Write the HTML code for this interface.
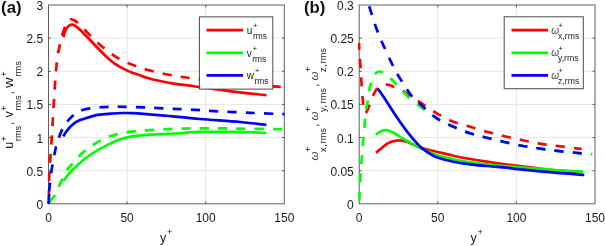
<!DOCTYPE html>
<html><head><meta charset="utf-8"><title>rms profiles</title>
<style>
html,body{margin:0;padding:0;background:#fff;}
body{width:605px;height:246px;overflow:hidden;font-family:"Liberation Sans",sans-serif;}
svg{display:block;filter:blur(0.4px);}
text{font-family:"Liberation Sans",sans-serif;fill:#1a1a1a;}
.t{font-size:12px;}
.g{stroke:#e6e6e6;stroke-width:1;}
.bx{fill:none;stroke:#5e5e5e;stroke-width:1;}
.tk{stroke:#4a4a4a;stroke-width:0.9;}
.pl{font-size:16.8px;font-weight:bold;fill:#111;}
.lb{font-size:12px;}
.lbs{font-size:9.6px;}
.lg{font-size:10px;}
.lgs{font-size:8px;}
.om{font-style:italic;fill:#444;}
</style></head><body>
<svg width="605" height="246" viewBox="0 0 605 246">
<defs>
<clipPath id="ca"><rect x="47.3" y="3.8" width="238.2" height="201"/></clipPath>
<clipPath id="cb"><rect x="358" y="3.8" width="238.2" height="201"/></clipPath>
</defs>
<rect width="605" height="246" fill="#fff"/>
<line x1="48.5" y1="170.7" x2="284.3" y2="170.7" class="g"/>
<line x1="48.5" y1="137.5" x2="284.3" y2="137.5" class="g"/>
<line x1="48.5" y1="104.4" x2="284.3" y2="104.4" class="g"/>
<line x1="48.5" y1="71.3" x2="284.3" y2="71.3" class="g"/>
<line x1="48.5" y1="38.1" x2="284.3" y2="38.1" class="g"/>
<line x1="127.1" y1="5.0" x2="127.1" y2="203.8" class="g"/>
<line x1="205.7" y1="5.0" x2="205.7" y2="203.8" class="g"/>
<rect x="48.5" y="5.0" width="235.8" height="198.8" class="bx"/>
<line x1="48.5" y1="170.7" x2="50.9" y2="170.7" class="tk"/>
<line x1="284.3" y1="170.7" x2="281.9" y2="170.7" class="tk"/>
<line x1="48.5" y1="137.5" x2="50.9" y2="137.5" class="tk"/>
<line x1="284.3" y1="137.5" x2="281.9" y2="137.5" class="tk"/>
<line x1="48.5" y1="104.4" x2="50.9" y2="104.4" class="tk"/>
<line x1="284.3" y1="104.4" x2="281.9" y2="104.4" class="tk"/>
<line x1="48.5" y1="71.3" x2="50.9" y2="71.3" class="tk"/>
<line x1="284.3" y1="71.3" x2="281.9" y2="71.3" class="tk"/>
<line x1="48.5" y1="38.1" x2="50.9" y2="38.1" class="tk"/>
<line x1="284.3" y1="38.1" x2="281.9" y2="38.1" class="tk"/>
<line x1="127.1" y1="203.8" x2="127.1" y2="201.4" class="tk"/>
<line x1="127.1" y1="5.0" x2="127.1" y2="7.4" class="tk"/>
<line x1="205.7" y1="203.8" x2="205.7" y2="201.4" class="tk"/>
<line x1="205.7" y1="5.0" x2="205.7" y2="7.4" class="tk"/>
<g clip-path="url(#ca)" fill="none" stroke-width="2.7" stroke-linejoin="round">
<path d="M63.40 37.20 C63.73 36.13 64.60 32.60 65.40 30.80 C66.20 29.00 67.13 27.43 68.20 26.40 C69.27 25.37 70.67 24.73 71.80 24.60 C72.93 24.47 73.47 24.58 75.00 25.60 C76.53 26.62 78.62 28.43 81.00 30.70 C83.38 32.97 86.52 36.32 89.30 39.20 C92.08 42.08 94.80 45.03 97.70 48.00 C100.60 50.97 103.82 54.37 106.70 57.00 C109.58 59.63 112.23 61.87 115.00 63.80 C117.77 65.73 120.52 67.15 123.30 68.60 C126.08 70.05 128.92 71.40 131.70 72.50 C134.48 73.60 137.48 74.33 140.00 75.20 C142.52 76.07 143.47 76.73 146.80 77.70 C150.13 78.67 155.52 80.02 160.00 81.00 C164.48 81.98 168.28 82.77 173.70 83.60 C179.12 84.43 188.12 85.40 192.50 86.00 C196.88 86.60 193.25 86.27 200.00 87.20 C206.75 88.13 221.92 90.27 233.00 91.60 C244.08 92.93 260.92 94.60 266.50 95.20" stroke="#ff0000"/>
<path d="M63.50 181.00 C64.72 179.45 67.33 175.32 70.80 171.70 C74.27 168.08 79.82 162.88 84.30 159.30 C88.78 155.72 93.23 152.88 97.70 150.20 C102.17 147.52 107.38 145.02 111.10 143.20 C114.82 141.38 116.28 140.47 120.00 139.30 C123.72 138.13 128.93 136.95 133.40 136.20 C137.87 135.45 140.08 135.25 146.80 134.80 C153.52 134.35 164.83 133.98 173.70 133.50 C182.57 133.02 192.28 132.18 200.00 131.90 C207.72 131.62 213.33 131.80 220.00 131.80 C226.67 131.80 232.27 131.70 240.00 131.90 C247.73 132.10 262.00 132.82 266.40 133.00" stroke="#00ff00"/>
<path d="M63.30 136.40 C63.83 135.55 65.25 132.98 66.50 131.30 C67.75 129.62 69.05 127.93 70.80 126.30 C72.55 124.67 74.75 122.77 77.00 121.50 C79.25 120.23 80.85 119.80 84.30 118.70 C87.75 117.60 93.23 115.75 97.70 114.90 C102.17 114.05 106.72 113.92 111.10 113.60 C115.48 113.28 120.35 113.07 124.00 113.00 C127.65 112.93 129.20 113.00 133.00 113.20 C136.80 113.40 140.13 113.68 146.80 114.20 C153.47 114.72 164.13 115.50 173.00 116.30 C181.87 117.10 188.83 118.05 200.00 119.00 C211.17 119.95 228.93 121.02 240.00 122.00 C251.07 122.98 262.00 124.42 266.40 124.90" stroke="#0000ff"/>
<path d="M48.50 204.00 C48.62 199.17 48.95 181.83 49.20 175.00 C49.45 168.17 49.53 169.83 50.00 163.00 C50.47 156.17 51.42 143.17 52.00 134.00 C52.58 124.83 52.95 117.00 53.50 108.00 C54.05 99.00 54.67 88.33 55.30 80.00 C55.93 71.67 56.62 63.47 57.30 58.00 C57.98 52.53 58.77 50.45 59.40 47.20 C60.03 43.95 60.20 41.80 61.10 38.50 C62.00 35.20 63.73 30.23 64.80 27.40 C65.87 24.57 66.55 22.85 67.50 21.50 C68.45 20.15 69.50 19.55 70.50 19.30 C71.50 19.05 72.38 19.48 73.50 20.00 C74.62 20.52 75.40 20.83 77.20 22.40 C79.00 23.97 80.88 26.00 84.30 29.40 C87.72 32.80 93.23 38.77 97.70 42.80 C102.17 46.83 107.52 50.92 111.10 53.60 C114.68 56.28 116.38 57.33 119.20 58.90 C122.02 60.47 123.40 61.20 128.00 63.00 C132.60 64.80 139.18 67.60 146.80 69.70 C154.42 71.80 165.18 74.05 173.70 75.60 C182.22 77.15 186.85 77.60 197.90 79.00 C208.95 80.40 226.65 82.72 240.00 84.00 C253.35 85.28 270.58 86.20 278.00 86.70 C285.42 87.20 283.42 86.95 284.50 87.00" stroke="#ff0000" stroke-dasharray="9.15 9.15" stroke-dashoffset="13.66"/>
<path d="M48.50 204.00 C49.00 203.25 50.43 200.97 51.50 199.50 C52.57 198.03 53.65 197.48 54.90 195.20 C56.15 192.92 57.70 188.55 59.00 185.80 C60.30 183.05 61.30 181.43 62.70 178.70 C64.10 175.97 65.68 171.98 67.40 169.40 C69.12 166.82 70.18 166.22 73.00 163.20 C75.82 160.18 80.18 154.82 84.30 151.30 C88.42 147.78 93.25 144.65 97.70 142.10 C102.15 139.55 105.95 137.67 111.00 136.00 C116.05 134.33 122.03 133.05 128.00 132.10 C133.97 131.15 139.18 130.83 146.80 130.30 C154.42 129.77 165.33 129.22 173.70 128.90 C182.07 128.58 189.17 128.48 197.00 128.40 C204.83 128.32 211.87 128.33 220.70 128.40 C229.53 128.47 239.37 128.67 250.00 128.80 C260.63 128.93 278.75 129.13 284.50 129.20" stroke="#00ff00" stroke-dasharray="9.15 9.15" stroke-dashoffset="16.57"/>
<path d="M48.50 203.80 C48.55 203.00 48.67 200.67 48.80 199.00 C48.93 197.33 49.22 194.67 49.30 193.80" stroke="#0000ff"/>
<path d="M48.50 204.00 C48.62 201.83 48.95 194.43 49.20 191.00 C49.45 187.57 49.68 186.38 50.00 183.40 C50.32 180.42 50.70 176.07 51.10 173.10 C51.50 170.13 51.58 170.00 52.40 165.60 C53.22 161.20 54.93 151.35 56.00 146.70 C57.07 142.05 57.47 141.15 58.80 137.70 C60.13 134.25 62.00 129.35 64.00 126.00 C66.00 122.65 68.63 119.85 70.80 117.60 C72.97 115.35 74.75 113.85 77.00 112.50 C79.25 111.15 80.85 110.35 84.30 109.50 C87.75 108.65 93.25 107.85 97.70 107.40 C102.15 106.95 106.62 106.90 111.00 106.80 C115.38 106.70 118.17 106.68 124.00 106.80 C129.83 106.92 137.83 107.17 146.00 107.50 C154.17 107.83 164.00 108.37 173.00 108.80 C182.00 109.23 193.83 109.75 200.00 110.10 C206.17 110.45 201.67 110.45 210.00 110.90 C218.33 111.35 237.58 112.25 250.00 112.80 C262.42 113.35 278.75 113.97 284.50 114.20" stroke="#0000ff" stroke-dasharray="9.15 9.15" stroke-dashoffset="5.87"/>
</g>
<text x="43.1" y="208.8" text-anchor="end" class="t">0</text>
<text x="43.1" y="175.7" text-anchor="end" class="t">0.5</text>
<text x="43.1" y="142.5" text-anchor="end" class="t">1</text>
<text x="43.1" y="109.4" text-anchor="end" class="t">1.5</text>
<text x="43.1" y="76.3" text-anchor="end" class="t">2</text>
<text x="43.1" y="43.1" text-anchor="end" class="t">2.5</text>
<text x="43.1" y="10.0" text-anchor="end" class="t">3</text>
<text x="48.5" y="221.7" text-anchor="middle" class="t">0</text>
<text x="127.1" y="221.7" text-anchor="middle" class="t">50</text>
<text x="205.7" y="221.7" text-anchor="middle" class="t">100</text>
<text x="284.3" y="221.7" text-anchor="middle" class="t">150</text>
<line x1="359.2" y1="170.7" x2="595.0" y2="170.7" class="g"/>
<line x1="359.2" y1="137.5" x2="595.0" y2="137.5" class="g"/>
<line x1="359.2" y1="104.4" x2="595.0" y2="104.4" class="g"/>
<line x1="359.2" y1="71.3" x2="595.0" y2="71.3" class="g"/>
<line x1="359.2" y1="38.1" x2="595.0" y2="38.1" class="g"/>
<line x1="437.8" y1="5.0" x2="437.8" y2="203.8" class="g"/>
<line x1="516.4" y1="5.0" x2="516.4" y2="203.8" class="g"/>
<rect x="359.2" y="5.0" width="235.8" height="198.8" class="bx"/>
<line x1="359.2" y1="170.7" x2="361.6" y2="170.7" class="tk"/>
<line x1="595.0" y1="170.7" x2="592.6" y2="170.7" class="tk"/>
<line x1="359.2" y1="137.5" x2="361.6" y2="137.5" class="tk"/>
<line x1="595.0" y1="137.5" x2="592.6" y2="137.5" class="tk"/>
<line x1="359.2" y1="104.4" x2="361.6" y2="104.4" class="tk"/>
<line x1="595.0" y1="104.4" x2="592.6" y2="104.4" class="tk"/>
<line x1="359.2" y1="71.3" x2="361.6" y2="71.3" class="tk"/>
<line x1="595.0" y1="71.3" x2="592.6" y2="71.3" class="tk"/>
<line x1="359.2" y1="38.1" x2="361.6" y2="38.1" class="tk"/>
<line x1="595.0" y1="38.1" x2="592.6" y2="38.1" class="tk"/>
<line x1="437.8" y1="203.8" x2="437.8" y2="201.4" class="tk"/>
<line x1="437.8" y1="5.0" x2="437.8" y2="7.4" class="tk"/>
<line x1="516.4" y1="203.8" x2="516.4" y2="201.4" class="tk"/>
<line x1="516.4" y1="5.0" x2="516.4" y2="7.4" class="tk"/>
<g clip-path="url(#cb)" fill="none" stroke-width="2.7" stroke-linejoin="round">
<path d="M376.00 152.90 C377.70 151.47 383.53 146.20 386.20 144.30 C388.87 142.40 389.98 142.17 392.00 141.50 C394.02 140.83 396.47 140.42 398.30 140.30 C400.13 140.18 401.43 140.50 403.00 140.80 C404.57 141.10 404.68 140.93 407.70 142.10 C410.72 143.27 416.27 146.20 421.10 147.80 C425.93 149.40 431.33 150.38 436.70 151.70 C442.07 153.02 447.75 154.48 453.30 155.70 C458.85 156.92 464.43 158.00 470.00 159.00 C475.57 160.00 481.15 160.87 486.70 161.70 C492.25 162.53 497.75 163.28 503.30 164.00 C508.85 164.72 514.17 165.25 520.00 166.00 C525.83 166.75 532.47 167.78 538.30 168.50 C544.13 169.22 547.55 169.72 555.00 170.30 C562.45 170.88 578.33 171.72 583.00 172.00" stroke="#ff0000"/>
<path d="M375.80 134.60 C376.58 134.08 378.90 132.23 380.50 131.50 C382.10 130.77 383.90 130.28 385.40 130.20 C386.90 130.12 388.02 130.50 389.50 131.00 C390.98 131.50 392.38 132.15 394.30 133.20 C396.22 134.25 398.77 135.95 401.00 137.30 C403.23 138.65 404.35 139.43 407.70 141.30 C411.05 143.17 416.27 146.22 421.10 148.50 C425.93 150.78 431.33 153.20 436.70 155.00 C442.07 156.80 447.75 158.08 453.30 159.30 C458.85 160.52 464.43 161.47 470.00 162.30 C475.57 163.13 481.15 163.68 486.70 164.30 C492.25 164.92 497.75 165.50 503.30 166.00 C508.85 166.50 511.38 166.63 520.00 167.30 C528.62 167.97 544.45 169.27 555.00 170.00 C565.55 170.73 578.58 171.42 583.30 171.70" stroke="#00ff00"/>
<path d="M377.40 88.30 C378.00 89.08 379.73 91.22 381.00 93.00 C382.27 94.78 383.58 96.83 385.00 99.00 C386.42 101.17 387.92 103.55 389.50 106.00 C391.08 108.45 392.58 110.82 394.50 113.70 C396.42 116.58 398.80 120.18 401.00 123.30 C403.20 126.42 405.45 129.52 407.70 132.40 C409.95 135.28 412.27 138.07 414.50 140.60 C416.73 143.13 418.85 145.62 421.10 147.60 C423.35 149.58 425.40 150.88 428.00 152.50 C430.60 154.12 432.48 155.77 436.70 157.30 C440.92 158.83 447.75 160.53 453.30 161.70 C458.85 162.87 464.43 163.58 470.00 164.30 C475.57 165.02 481.15 165.50 486.70 166.00 C492.25 166.50 497.75 166.75 503.30 167.30 C508.85 167.85 511.38 168.40 520.00 169.30 C528.62 170.20 544.28 171.75 555.00 172.70 C565.72 173.65 579.42 174.62 584.30 175.00" stroke="#0000ff"/>
<path d="M359.00 43.00 C359.10 45.00 359.32 50.58 359.60 55.00 C359.88 59.42 360.38 64.83 360.70 69.50 C361.02 74.17 361.18 78.33 361.50 83.00 C361.82 87.67 362.25 93.50 362.60 97.50 C362.95 101.50 363.17 104.42 363.60 107.00 C364.03 109.58 364.63 112.33 365.20 113.00 C365.77 113.67 366.32 112.23 367.00 111.00 C367.68 109.77 368.25 108.20 369.30 105.60 C370.35 103.00 372.12 98.12 373.30 95.40 C374.48 92.68 375.12 90.87 376.40 89.30 C377.68 87.73 379.48 86.78 381.00 86.00 C382.52 85.22 384.08 84.77 385.50 84.60 C386.92 84.43 388.13 84.65 389.50 85.00 C390.87 85.35 391.48 85.75 393.70 86.70 C395.92 87.65 400.25 89.25 402.80 90.70 C405.35 92.15 405.97 93.35 409.00 95.40 C412.03 97.45 416.38 100.02 421.00 103.00 C425.62 105.98 431.32 110.18 436.70 113.30 C442.08 116.42 447.75 119.47 453.30 121.70 C458.85 123.93 464.43 125.03 470.00 126.70 C475.57 128.37 481.15 130.15 486.70 131.70 C492.25 133.25 497.47 134.62 503.30 136.00 C509.13 137.38 515.87 138.78 521.70 140.00 C527.53 141.22 532.75 142.35 538.30 143.30 C543.85 144.25 547.77 144.75 555.00 145.70 C562.23 146.65 577.25 148.45 581.70 149.00" stroke="#ff0000" stroke-dasharray="9.15 9.15" stroke-dashoffset="2.19"/>
<path d="M359.20 203.80 C359.25 202.50 359.33 199.63 359.50 196.00 C359.67 192.37 359.95 186.67 360.20 182.00 C360.45 177.33 360.67 172.67 361.00 168.00 C361.33 163.33 361.82 158.67 362.20 154.00 C362.58 149.33 362.90 144.83 363.30 140.00 C363.70 135.17 364.12 130.08 364.60 125.00 C365.08 119.92 365.67 113.58 366.20 109.50 C366.73 105.42 367.28 103.70 367.80 100.50 C368.32 97.30 368.72 93.28 369.30 90.30 C369.88 87.32 370.52 84.98 371.30 82.60 C372.08 80.22 373.13 77.63 374.00 76.00 C374.87 74.37 375.58 73.55 376.50 72.80 C377.42 72.05 378.33 71.47 379.50 71.50 C380.67 71.53 381.65 71.83 383.50 73.00 C385.35 74.17 388.40 76.57 390.60 78.50 C392.80 80.43 394.50 82.35 396.70 84.60 C398.90 86.85 401.75 89.77 403.80 92.00 C405.85 94.23 407.38 96.37 409.00 98.00 C410.62 99.63 412.75 101.17 413.50 101.80" stroke="#00ff00" stroke-dasharray="9.15 9.15" stroke-dashoffset="15.26"/>
<path d="M413.50 101.80 C414.32 102.37 416.15 103.58 418.40 105.20 C420.65 106.82 423.95 109.37 427.00 111.50 C430.05 113.63 432.32 115.48 436.70 118.00 C441.08 120.52 447.75 124.05 453.30 126.60 C458.85 129.15 464.43 131.45 470.00 133.30 C475.57 135.15 481.15 136.30 486.70 137.70 C492.25 139.10 497.47 140.37 503.30 141.70 C509.13 143.03 515.87 144.60 521.70 145.70 C527.53 146.80 532.75 147.47 538.30 148.30 C543.85 149.13 547.77 149.87 555.00 150.70 C562.23 151.53 575.48 152.72 581.70 153.30 C587.92 153.88 590.53 154.05 592.30 154.20" stroke="#00ff00" stroke-dasharray="9.15 9.15" stroke-dashoffset="13.67"/>
<path d="M368.80 5.00 C370.13 9.08 374.35 22.73 376.80 29.50 C379.25 36.27 381.03 40.02 383.50 45.60 C385.97 51.18 389.40 58.43 391.60 63.00 C393.80 67.57 395.00 69.97 396.70 73.00 C398.40 76.03 400.10 78.48 401.80 81.20 C403.50 83.92 405.20 86.77 406.90 89.30 C408.60 91.83 409.65 93.82 412.00 96.40 C414.35 98.98 416.88 101.15 421.00 104.80 C425.12 108.45 431.32 114.65 436.70 118.30 C442.08 121.95 447.75 124.20 453.30 126.70 C458.85 129.20 464.43 131.47 470.00 133.30 C475.57 135.13 481.15 136.30 486.70 137.70 C492.25 139.10 497.47 140.37 503.30 141.70 C509.13 143.03 515.87 144.60 521.70 145.70 C527.53 146.80 532.75 147.47 538.30 148.30 C543.85 149.13 547.77 149.87 555.00 150.70 C562.23 151.53 577.25 152.87 581.70 153.30" stroke="#0000ff" stroke-dasharray="9.15 9.15" stroke-dashoffset="16.89"/>
</g>
<text x="353.8" y="208.8" text-anchor="end" class="t">0</text>
<text x="353.8" y="175.7" text-anchor="end" class="t">0.05</text>
<text x="353.8" y="142.5" text-anchor="end" class="t">0.1</text>
<text x="353.8" y="109.4" text-anchor="end" class="t">0.15</text>
<text x="353.8" y="76.3" text-anchor="end" class="t">0.2</text>
<text x="353.8" y="43.1" text-anchor="end" class="t">0.25</text>
<text x="353.8" y="10.0" text-anchor="end" class="t">0.3</text>
<text x="359.2" y="221.7" text-anchor="middle" class="t">0</text>
<text x="437.8" y="221.7" text-anchor="middle" class="t">50</text>
<text x="516.4" y="221.7" text-anchor="middle" class="t">100</text>
<text x="595.0" y="221.7" text-anchor="middle" class="t">150</text>
<text x="1.1" y="13.1" class="pl">(a)</text>
<text x="304.0" y="13.1" class="pl">(b)</text>
<text x="160.1" y="241.7" style="font-size:12.5px">y</text><text x="167.1" y="235.3" style="font-size:9.2px">+</text>
<text x="470.6" y="241.7" style="font-size:12.5px">y</text><text x="477.6" y="235.3" style="font-size:9.2px">+</text>
<g transform="translate(13.3,148.7) rotate(-90)"><text x="0.00" y="0" style="font-size:12.5px">u</text><text x="7.25" y="-6.6" style="font-size:9.2px">+</text><text x="7.55" y="7.2" style="font-size:9.2px">rms</text><text x="31.10" y="0" style="font-size:12.5px">v</text><text x="37.65" y="-6.6" style="font-size:9.2px">+</text><text x="37.95" y="7.2" style="font-size:9.2px">rms</text><text x="60.70" y="0" textLength="10.6" lengthAdjust="spacingAndGlyphs" style="font-size:12.5px">w</text><text x="71.90" y="-6.6" style="font-size:9.2px">+</text><text x="72.20" y="7.2" style="font-size:9.2px">rms</text><text x="23.70" y="0" style="font-size:12.5px">,</text><text x="54.10" y="0" style="font-size:12.5px">,</text></g>
<g transform="translate(318,160.3) rotate(-90)"><text x="-0.30" y="0" class="om" style="font-size:11.5px">ω</text><text x="8.30" y="-7.3" style="font-size:9.2px">+</text><text x="8.30" y="7.5" style="font-size:9.2px;letter-spacing:0.6px">x,</text><text x="16.90" y="7.5" style="font-size:9.2px">rms</text><text x="33.30" y="0" style="font-size:12.5px">,</text><text x="39.70" y="0" class="om" style="font-size:11.5px">ω</text><text x="48.30" y="-7.3" style="font-size:9.2px">+</text><text x="48.30" y="7.5" style="font-size:9.2px;letter-spacing:0.6px">y,</text><text x="56.90" y="7.5" style="font-size:9.2px">rms</text><text x="73.30" y="0" style="font-size:12.5px">,</text><text x="79.70" y="0" class="om" style="font-size:11.5px">ω</text><text x="88.30" y="-7.3" style="font-size:9.2px">+</text><text x="88.30" y="7.5" style="font-size:9.2px;letter-spacing:0.6px">z,</text><text x="96.90" y="7.5" style="font-size:9.2px">rms</text></g>
<rect x="199.4" y="16.9" width="73.4" height="72.2" fill="#fff" stroke="#4a4a4a" stroke-width="1"/><line x1="206.5" y1="30.2" x2="243" y2="30.2" stroke="#ff0000" stroke-width="2.7"/><text x="246.8" y="33.9" class="lg">u</text><text x="253.1" y="28.0" class="lgs">+</text><text x="252.9" y="39.2" class="lgs" style="font-size:8.4px">rms</text><line x1="206.5" y1="52.8" x2="243" y2="52.8" stroke="#00ff00" stroke-width="2.7"/><text x="246.8" y="56.5" class="lg">v</text><text x="252.5" y="50.6" class="lgs">+</text><text x="252.3" y="61.8" class="lgs" style="font-size:8.4px">rms</text><line x1="206.5" y1="75.4" x2="243" y2="75.4" stroke="#0000ff" stroke-width="2.7"/><text x="246.8" y="79.1" class="lg">w</text><text x="254.7" y="73.2" class="lgs">+</text><text x="254.5" y="84.4" class="lgs" style="font-size:8.4px">rms</text>
<rect x="504.2" y="16.8" width="79.1" height="71.9" fill="#fff" stroke="#4a4a4a" stroke-width="1"/><line x1="511.5" y1="30.2" x2="548" y2="30.2" stroke="#ff0000" stroke-width="2.7"/><text x="551.3" y="33.6" class="lg om">ω</text><text x="558.3" y="28.0" class="lgs">+</text><text x="558.0" y="38.6" class="lgs" style="font-size:8.7px">x,rms</text><line x1="511.5" y1="52.8" x2="548" y2="52.8" stroke="#00ff00" stroke-width="2.7"/><text x="551.3" y="56.2" class="lg om">ω</text><text x="558.3" y="50.6" class="lgs">+</text><text x="558.0" y="61.2" class="lgs" style="font-size:8.7px">y,rms</text><line x1="511.5" y1="75.4" x2="548" y2="75.4" stroke="#0000ff" stroke-width="2.7"/><text x="551.3" y="78.8" class="lg om">ω</text><text x="558.3" y="73.2" class="lgs">+</text><text x="558.0" y="83.8" class="lgs" style="font-size:8.7px">z,rms</text>
</svg></body></html>
